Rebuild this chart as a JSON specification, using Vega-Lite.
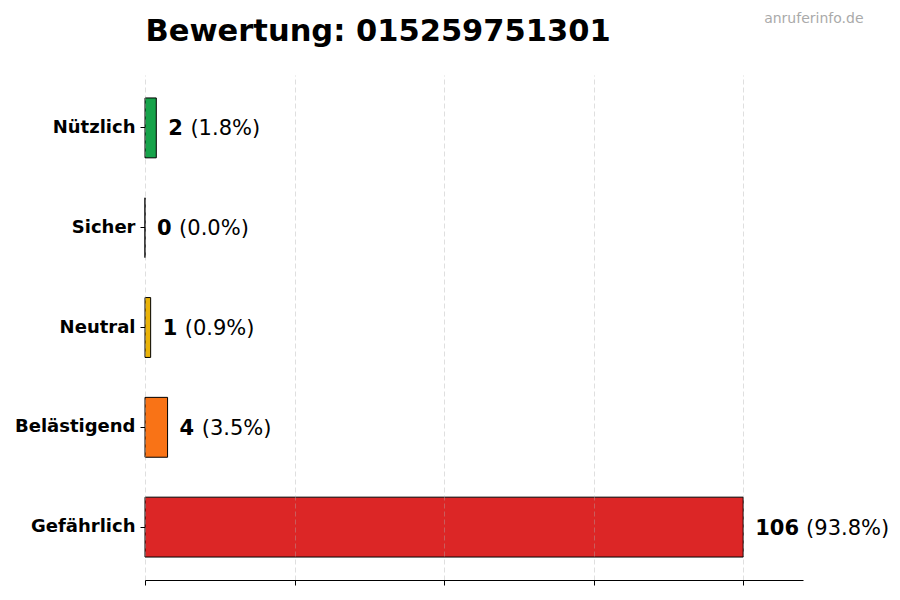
{
  "$schema": "https://vega.github.io/schema/vega-lite/v6.json",
  "autosize": {"type": "none"},
  "width": 658,
  "height": 505,
  "padding": {"left": 145, "top": 75, "right": 97, "bottom": 20},
  "background": "white",
  "config": {
    "view": {"stroke": null},
    "font": "DejaVu Sans"
  },
  "data": {
    "values": [
      {"kategorie": "Nützlich", "anzahl": 2, "prozent": "1.8%", "farbe": "#16a34a"},
      {"kategorie": "Sicher", "anzahl": 0, "prozent": "0.0%", "farbe": "#2563eb"},
      {"kategorie": "Neutral", "anzahl": 1, "prozent": "0.9%", "farbe": "#eab308"},
      {"kategorie": "Belästigend", "anzahl": 4, "prozent": "3.5%", "farbe": "#f97316"},
      {"kategorie": "Gefährlich", "anzahl": 106, "prozent": "93.8%", "farbe": "#dc2626"}
    ]
  },
  "transform": [
    {"calculate": "length(toString(datum.anzahl))", "as": "ndig"},
    {"calculate": "'\u200b' + (datum.ndig == 1 ? '\u00a0\u00a0\u00a0\u200a' : datum.ndig == 2 ? '\u00a0\u00a0\u00a0\u00a0\u00a0\u2009' : '\u00a0\u00a0\u00a0\u00a0\u00a0\u00a0\u00a0\u2009') + '(' + datum.prozent + ')'", "as": "ptext"}
  ],
  "encoding": {
    "y": {
      "field": "kategorie",
      "type": "nominal",
      "sort": ["Nützlich", "Sicher", "Neutral", "Belästigend", "Gefährlich"],
      "scale": {"paddingInner": 0.4, "paddingOuter": 0.23},
      "axis": {
        "title": "Bewertung: 015259751301",
        "titleFont": "DejaVu Sans",
        "titleFontSize": 30.5,
        "titleFontWeight": "bold",
        "titleColor": "black",
        "titleAngle": 0,
        "titleAlign": "left",
        "titleBaseline": "alphabetic",
        "titleAnchor": "start",
        "titleX": 0,
        "titleY": -35,
        "domain": false,
        "ticks": true,
        "tickSize": 5,
        "tickColor": "black",
        "labelFont": "DejaVu Sans",
        "labelFontSize": 18,
        "labelFontWeight": "bold",
        "labelColor": "black",
        "labelPadding": 5,
        "labelBaseline": "middle",
        "grid": false
      }
    }
  },
  "layer": [
    {
      "mark": {"type": "bar", "stroke": "black", "strokeWidth": 1},
      "encoding": {
        "x": {
          "field": "anzahl",
          "type": "quantitative",
          "scale": {"domain": [0, 116.6], "nice": false, "zero": true},
          "axis": {
            "values": [0, 26.5, 53, 79.5, 106],
            "labels": false,
            "title": "anruferinfo.de",
            "titleFont": "DejaVu Sans",
            "titleFontSize": 14,
            "titleFontWeight": "normal",
            "titleColor": "#aaaaaa",
            "titleAlign": "right",
            "titleBaseline": "alphabetic",
            "titleAnchor": "start",
            "titleX": 718,
            "titleY": -558,
            "domain": true,
            "domainColor": "black",
            "domainWidth": 1,
            "ticks": true,
            "tickSize": 5,
            "tickColor": "black",
            "grid": true,
            "gridColor": "#b0b0b0",
            "gridOpacity": 0.5,
            "gridDash": [5, 3],
            "gridWidth": 0.8,
            "zindex": 1
          }
        },
        "fill": {"field": "farbe", "type": "nominal", "scale": null, "legend": null}
      }
    },
    {
      "mark": {"type": "text", "align": "left", "baseline": "middle", "dx": 12, "dy": 1.5, "font": "DejaVu Sans", "fontSize": 21, "fontWeight": "bold", "color": "black"},
      "encoding": {
        "x": {"field": "anzahl", "type": "quantitative"},
        "text": {"field": "anzahl", "type": "quantitative"}
      }
    },
    {
      "mark": {"type": "text", "align": "left", "baseline": "middle", "dx": 12, "dy": 1.5, "font": "DejaVu Sans", "fontSize": 21, "fontWeight": "normal", "color": "black"},
      "encoding": {
        "x": {"field": "anzahl", "type": "quantitative"},
        "text": {"field": "ptext", "type": "nominal"}
      }
    }
  ]
}
